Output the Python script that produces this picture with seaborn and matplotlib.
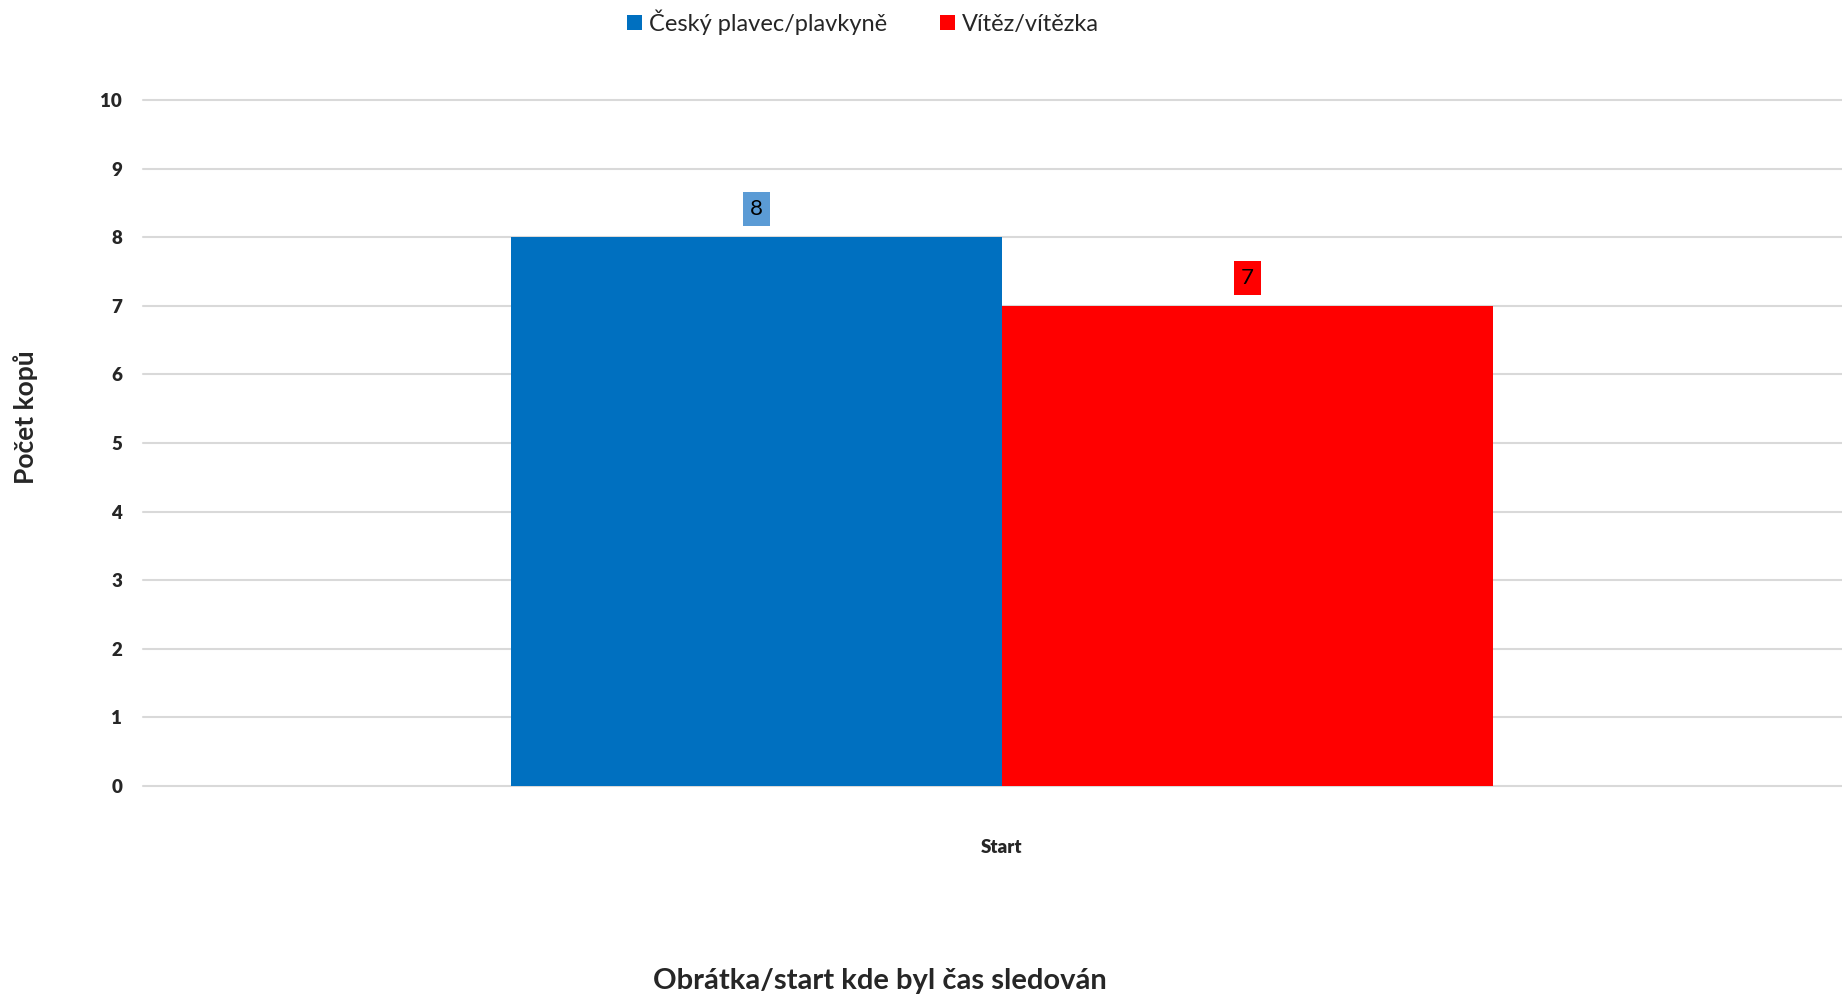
import pandas as pd
import seaborn as sns
import matplotlib.pyplot as plt

# data
categories = ["Start", "Start"]
series = ["Český plavec/plavkyně", "Vítěz/vítězka"]
values = [8, 7]
tick_labels = [str(i) for i in range(0, 11)]

colors = {"Český plavec/plavkyně": "#0070C0", "Vítěz/vítězka": "#FF0000"}
label_boxes = ["#5B9BD5", "#FF0000"]

df = pd.DataFrame({"kde": categories, "kdo": series, "pocet": values})

sns.set_theme(style="white")
plt.rcParams['font.family'] = ['Lato', 'DejaVu Sans']

fig = plt.figure(figsize=(18.42, 9.98), dpi=100)
ax = fig.add_axes([143 / 1842, 1 - 786 / 998, 1 - 143 / 1842, (786 - 100) / 998])

sns.barplot(data=df, x="kde", y="pocet", hue="kdo", palette=colors,
            width=0.572, saturation=1, linewidth=0, ax=ax, legend=True)

ax.set_xlim(-0.5, 0.489)
ax.set_ylim(0, 10)
ax.set_yticks(range(0, 11))
ax.set_yticklabels(tick_labels, fontsize=13.5, fontweight="heavy")
ax.tick_params(axis="y", length=0, pad=15)
ax.tick_params(axis="x", length=0, pad=38, labelsize=13.5)
for t in ax.get_xticklabels():
    t.set_fontweight("heavy")

ax.grid(axis="y", color="#D9D9D9", linewidth=1.5)
ax.set_axisbelow(True)
for s in ax.spines.values():
    s.set_visible(False)
for gl in ax.get_ygridlines():
    gl.set_clip_on(False)

ax.set_xlabel("")
ax.set_ylabel("")

for cont, fc in zip(ax.containers, label_boxes):
    ax.bar_label(cont, padding=13, fontsize=16, color="black",
                 bbox=dict(boxstyle="square,pad=0.32", fc=fc, ec="none"))

handles, labels = ax.get_legend_handles_labels()
ax.get_legend().remove()
fig.legend(handles, labels, loc="upper center", bbox_to_anchor=(863 / 1842, 1.012),
           ncol=2, frameon=False, fontsize=17, handlelength=0.65, handleheight=0.65,
           handletextpad=0.3, columnspacing=2.2)

fig.text(26 / 1842, 1 - 417 / 998, "Počet kopů", rotation=90, fontsize=19,
         fontweight="bold", ha="center", va="center")
fig.text(880 / 1842, 1 - 981 / 998, "Obrátka/start kde byl čas sledován",
         fontsize=21, fontweight="bold", ha="center", va="center")

fig.savefig("out.png", dpi=100)
